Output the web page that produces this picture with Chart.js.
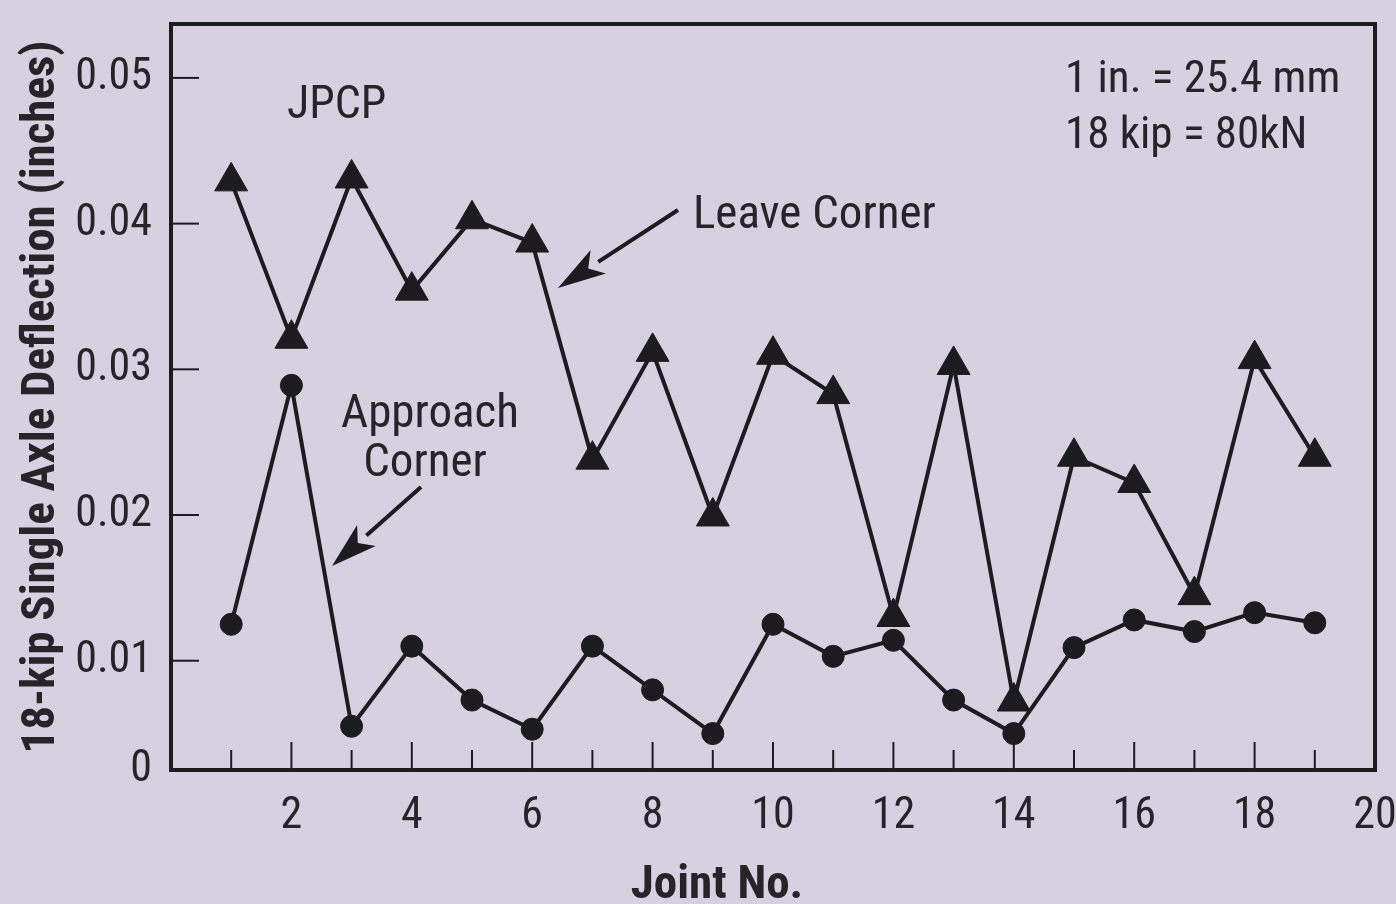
<!DOCTYPE html>
<html>
<head>
<meta charset="utf-8">
<script src="https://cdn.jsdelivr.net/npm/chart.js@4.4.1/dist/chart.umd.min.js"></script>
<style>
  html, body { margin: 0; padding: 0; background: #d6d0e0; }
  canvas { display: block; }
</style>
</head>
<body>
<canvas id="c" width="1396" height="904"></canvas>
<script>
// ---- data ----
const joints = [1,2,3,4,5,6,7,8,9,10,11,12,13,14,15,16,17,18,19];
const leaveCorner = [0.0429,0.0321,0.0431,0.0354,0.0403,0.0387,0.0238,0.0312,0.0199,0.0310,0.0283,0.0130,0.0303,0.0072,0.0240,0.0222,0.0145,0.0307,0.0240];
const approachCorner = [0.0125,0.0289,0.0055,0.0110,0.0073,0.0053,0.0110,0.0080,0.0050,0.0125,0.0103,0.0114,0.0073,0.0050,0.0109,0.0128,0.0120,0.0133,0.0126];
const xTickValues = [2,4,6,8,10,12,14,16,18,20];
const xMinorTicks = [1,3,5,7,9,11,13,15,17,19];
const yAxisMin = 0.0025;
const yAxisMax = 0.0537;
const yTickValues = [0.0025,0.01,0.02,0.03,0.04,0.05];
const yTickLabels = ['0','0.01','0.02','0.03','0.04','0.05'];

const FONT = "'Liberation Sans Narrow', 'Roboto Condensed', 'Arial Narrow', sans-serif";
const INK = '#1c1b1f';
const TXT = '#262428';
const BG = '#d6d0e0';

const decor = {
  id: 'decor',
  beforeDraw(chart) {
    const c = chart.ctx;
    c.save();
    c.fillStyle = BG;
    c.fillRect(0, 0, chart.width, chart.height);
    c.restore();
  },
  beforeDatasetsDraw(chart) {
    const c = chart.ctx;
    const a = chart.chartArea;
    const xs = chart.scales.x, ys = chart.scales.y;
    c.save();
    c.strokeStyle = INK;
    c.lineWidth = 4;
    c.strokeRect(a.left, a.top, a.right - a.left, a.bottom - a.top);
    c.lineWidth = 2;
    yTickValues.slice(1).forEach(v => {
      const p = ys.getPixelForValue(v);
      c.beginPath(); c.moveTo(a.left, p); c.lineTo(a.left + 28, p); c.stroke();
    });
    xTickValues.slice(0, -1).forEach(v => {
      const p = xs.getPixelForValue(v);
      c.beginPath(); c.moveTo(p, a.bottom); c.lineTo(p, a.bottom - 28); c.stroke();
    });
    xMinorTicks.forEach(v => {
      const p = xs.getPixelForValue(v);
      c.beginPath(); c.moveTo(p, a.bottom); c.lineTo(p, a.bottom - 20); c.stroke();
    });
    c.restore();
  },
  afterDraw(chart) {
    const c = chart.ctx;
    c.save();
    c.fillStyle = TXT;
    c.textBaseline = 'alphabetic';
    c.textAlign = 'left';
    c.font = "46px " + FONT;
    c.fillText('JPCP', 287, 118);
    c.font = "45px " + FONT;
    c.fillText('1 in. = 25.4 mm', 1065, 92);
    c.fillText('18 kip = 80kN', 1065, 148);
    c.font = "47px " + FONT;
    c.fillText('Leave Corner', 693, 228);
    c.textAlign = 'center';
    c.fillText('Approach', 430, 427);
    c.fillText('Corner', 425, 476);
    c.font = "bold 47px " + FONT;
    c.fillText('Joint No.', 717, 898);
    function arrow(x1, y1, x2, y2, hl, hw) {
      const ang = Math.atan2(y2 - y1, x2 - x1);
      const bx = x2 - hl * Math.cos(ang), by = y2 - hl * Math.sin(ang);
      c.strokeStyle = INK; c.fillStyle = INK; c.lineWidth = 4;
      c.beginPath(); c.moveTo(x1, y1); c.lineTo(bx, by); c.stroke();
      const nx = -Math.sin(ang), ny = Math.cos(ang);
      c.beginPath();
      c.moveTo(x2, y2);
      c.lineTo(bx + nx * hw / 2, by + ny * hw / 2);
      c.lineTo(bx + (x2 - bx) * 0.25, by + (y2 - by) * 0.25);
      c.lineTo(bx - nx * hw / 2, by - ny * hw / 2);
      c.closePath(); c.fill();
    }
    arrow(678, 210, 558, 288, 48, 28);
    arrow(421, 487, 332, 566, 46, 28);
    c.restore();
  }
};

new Chart(document.getElementById('c'), {
  type: 'line',
  data: {
    datasets: [
      {
        label: 'Leave Corner',
        data: joints.map((j, i) => ({ x: j, y: leaveCorner[i] })),
        borderColor: INK, backgroundColor: INK,
        borderWidth: 4, tension: 0,
        pointStyle: 'triangle', pointRadius: 19,
        pointBackgroundColor: INK, pointBorderColor: INK, pointBorderWidth: 1
      },
      {
        label: 'Approach Corner',
        data: joints.map((j, i) => ({ x: j, y: approachCorner[i] })),
        borderColor: INK, backgroundColor: INK,
        borderWidth: 4, tension: 0,
        pointStyle: 'circle', pointRadius: 11,
        pointBackgroundColor: INK, pointBorderColor: INK, pointBorderWidth: 1
      }
    ]
  },
  options: {
    responsive: false,
    animation: false,
    devicePixelRatio: 1,
    layout: { padding: { top: 24, right: 21, left: 0, bottom: 0 } },
    plugins: { legend: { display: false }, tooltip: { enabled: false } },
    scales: {
      x: {
        type: 'linear', min: 0, max: 20,
        afterBuildTicks: s => { s.ticks = xTickValues.map(v => ({ value: v })); },
        afterFit: s => { s.height = 134; s.paddingLeft = 0; s.paddingRight = 0; },
        grid: { display: false, drawTicks: false },
        border: { display: false },
        ticks: { padding: 25, maxRotation: 0, autoSkip: false, color: TXT,
                 font: { family: FONT, size: 44, lineHeight: 1 },
                 callback: v => String(v) },
        title: { display: false }
      },
      y: {
        type: 'linear', min: yAxisMin, max: yAxisMax,
        afterBuildTicks: s => { s.ticks = yTickValues.map(v => ({ value: v })); },
        afterFit: s => { s.width = 171; s.paddingTop = 0; s.paddingBottom = 0; },
        grid: { display: false, drawTicks: false },
        border: { display: false },
        ticks: { padding: 19, color: TXT,
                 font: { family: FONT, size: 44, lineHeight: 1 },
                 callback: (v, i) => yTickLabels[i] },
        title: { display: true, text: '18-kip Single Axle Deflection (inches)',
                 color: TXT, padding: { top: 19, bottom: 0 },
                 font: { family: FONT, size: 47, weight: 'bold', lineHeight: 1 } }
      }
    }
  },
  plugins: [decor]
});
</script>
</body>
</html>
